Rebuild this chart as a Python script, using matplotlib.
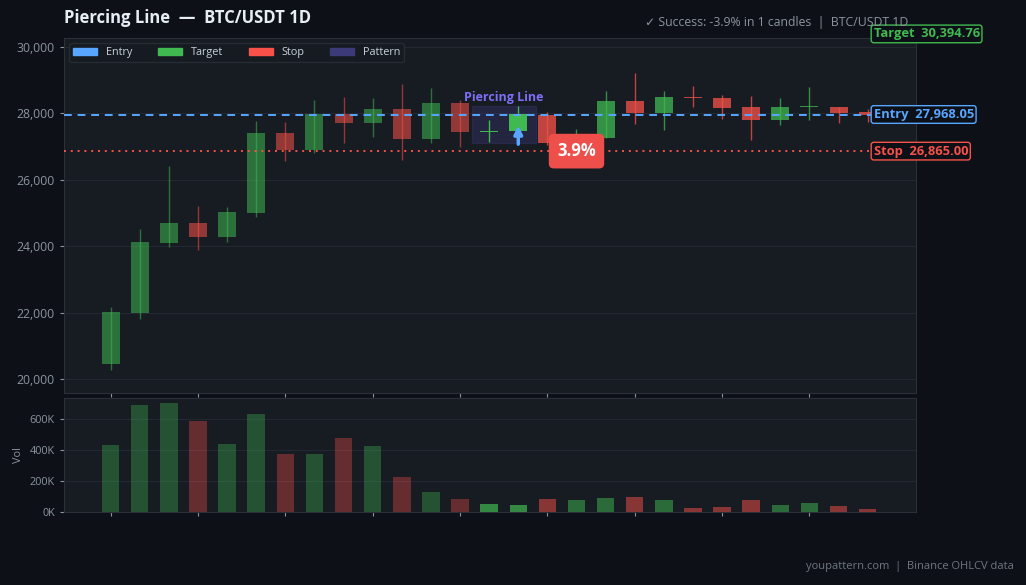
import matplotlib

matplotlib.use("Agg")
import matplotlib.pyplot as plt
from matplotlib.patches import Patch, Rectangle
from matplotlib.ticker import FuncFormatter

plt.rcParams["font.family"] = ["Open Sans", "DejaVu Sans"]

OPENS = [20461, 21997, 24106, 24699, 24286, 25009, 27410, 26907, 27991, 27720,
         28133, 27238, 28313, 27450, 27460, 27961, 26950, 27268, 28374, 28021,
         28480, 28464, 28193, 27810, 28190, 28193, 28040]
HIGHS = [22169, 24518, 26416, 25211, 25181, 27771, 27741, 28404, 28494, 28464,
         28886, 28765, 28404, 27801, 28223, 28042, 27530, 28675, 29217, 28675,
         28825, 28554, 28524, 28464, 28795, 28193, 28133]
LOWS = [20280, 21816, 23985, 23886, 24136, 24889, 26566, 26816, 27117, 27298,
        26605, 27117, 26997, 27148, 27420, 27050, 26900, 27250, 27690, 27509,
        28202, 27831, 27199, 27660, 27810, 27720, 27750]
CLOSES = [22009, 24127, 24699, 24286, 25030, 27410, 26907, 27991, 27720, 28133,
          27238, 28313, 27449, 27460, 27991, 27117, 27080, 28374, 28021, 28494,
          28465, 28172, 27810, 28193, 28195, 28021, 27968]
VOLUMES = [431e3, 688e3, 700e3, 585e3, 438e3, 630e3, 374e3, 374e3, 476e3, 425e3,
           226e3, 130e3, 85e3, 53e3, 47e3, 85e3, 79e3, 92e3, 98e3, 79e3,
           28e3, 34e3, 79e3, 47e3, 60e3, 40e3, 21e3]

PATTERN_IDX = [13, 14]
ENTRY = 27968.05
TARGET = 30394.76
STOP = 26865.00
MOVE_LABEL = "3.9%"

BG = "#0d1017"
PANEL = "#171b22"
GREEN = "#3fb950"
RED = "#f85149"
BLUE = "#58a6ff"
PURPLE = "#3d3a7a"
MUTED = "#8b949e"


def candle_alpha(i):
    if i in PATTERN_IDX:
        return 1.0, 0.7
    if i < PATTERN_IDX[0]:
        return 0.55, 0.35
    return 0.75, 0.5


fig = plt.figure(figsize=(10.26, 5.85), dpi=100, facecolor=BG)
ax = fig.add_axes([0.0624, 0.328, 0.8304, 0.607], facecolor=PANEL)
axv = fig.add_axes([0.0624, 0.1248, 0.8304, 0.1949], facecolor=PANEL, sharex=ax)

for i in range(len(OPENS)):
    o, h, l, c = OPENS[i], HIGHS[i], LOWS[i], CLOSES[i]
    col = GREEN if c >= o else RED
    a_body, a_vol = candle_alpha(i)
    ax.vlines(i, l, h, color=col, alpha=a_body, linewidth=1, zorder=3)
    ax.bar(i, max(abs(c - o), 25), bottom=min(o, c), width=0.62, color=col,
           alpha=a_body, linewidth=0, zorder=4)
    axv.bar(i, VOLUMES[i], width=0.6, color=col, alpha=a_vol, linewidth=0, zorder=3)

# pattern highlight
p0, p1 = PATTERN_IDX[0], PATTERN_IDX[-1]
plow = min(LOWS[p0:p1 + 1]) - 40
phigh = max(HIGHS[p0:p1 + 1]) + 10
ax.add_patch(Rectangle((p0 - 0.6, plow), (p1 - p0) + 1.2, phigh - plow,
                       facecolor=PURPLE, alpha=0.35, edgecolor=PURPLE, linewidth=1, zorder=2))
ax.text((p0 + p1) / 2, phigh + 250, "Piercing Line", color="#7c6ff5", fontsize=9,
        fontweight="bold", ha="center", va="center", zorder=6)
ax.annotate("", xy=(p1, 27720), xytext=(p1, 26990),
            arrowprops=dict(arrowstyle="-|>", color=BLUE, lw=2.5, mutation_scale=12), zorder=7)

ax.axhline(ENTRY, color=BLUE, linestyle=(0, (4, 3)), linewidth=1.4, zorder=5)
ax.axhline(STOP, color=RED, linestyle=(0, (1, 2.5)), linewidth=1.4, zorder=5)

ax.text(16, STOP, MOVE_LABEL, color="white", fontsize=12, fontweight="bold",
        ha="center", va="center", zorder=8,
        bbox=dict(boxstyle="round,pad=0.5,rounding_size=0.3", fc="#ef4f4a", ec="none"))

for label, val, col in [("Target", TARGET, GREEN), ("Entry", ENTRY, BLUE), ("Stop", STOP, RED)]:
    ax.text(26.2, val, f"{label}  {val:,.2f}", color=col, fontsize=9.3, fontweight="bold",
            ha="left", va="center", clip_on=False, zorder=9,
            bbox=dict(boxstyle="round,pad=0.18,rounding_size=0.2", fc=BG, ec=col, lw=1))

ax.set_xlim(-1.6, 27.66)
ax.set_ylim(19578, 30271)
axv.set_ylim(0, 733e3)

ticks = list(range(0, len(OPENS), 3))
for a in (ax, axv):
    a.set_xticks(ticks)
    a.tick_params(axis="x", colors=MUTED, length=3, labelbottom=False)
    a.tick_params(axis="y", colors=MUTED, labelsize=8.8, length=3)
    a.grid(axis="y", color="#232833", linewidth=0.8, zorder=0)
    a.set_axisbelow(True)
    for s in a.spines.values():
        s.set_color("#2a2f38")

ax.set_yticks([20000, 22000, 24000, 26000, 28000, 30000])
ax.yaxis.set_major_formatter(FuncFormatter(lambda v, p: f"{v:,.0f}"))
axv.set_yticks([0, 200e3, 400e3, 600e3])
axv.yaxis.set_major_formatter(FuncFormatter(lambda v, p: f"{v / 1e3:.0f}K"))
axv.tick_params(axis="y", labelsize=7.8)
axv.set_ylabel("Vol", color=MUTED, fontsize=7.8)

handles = [Patch(color=BLUE, label="Entry"), Patch(color=GREEN, label="Target"),
           Patch(color=RED, label="Stop"), Patch(color=PURPLE, label="Pattern")]
leg = ax.legend(handles=handles, loc="upper left", ncol=4, fontsize=7.8, frameon=True,
                facecolor="#161b22", edgecolor="#262b34", labelcolor="#c9d1d9",
                handlelength=2.2, handleheight=0.6, columnspacing=2.4,
                borderpad=0.35, bbox_to_anchor=(0.0, 1.0))
leg.get_frame().set_alpha(1)
leg.set_zorder(10)

fig.text(0.0624, 0.969, "Piercing Line  \u2014  BTC/USDT 1D", color="#e6edf3",
         fontsize=12, fontweight="bold", ha="left", va="center")
fig.text(0.885, 0.961, "\u2713 Success: -3.9% in 1 candles  |  BTC/USDT 1D", color=MUTED,
         fontsize=8.8, ha="right", va="center")
fig.text(0.988, 0.031, "youpattern.com  |  Binance OHLCV data", color="#6e7681",
         fontsize=8, ha="right", va="center")

fig.savefig("out.png", dpi=100, facecolor=BG)
